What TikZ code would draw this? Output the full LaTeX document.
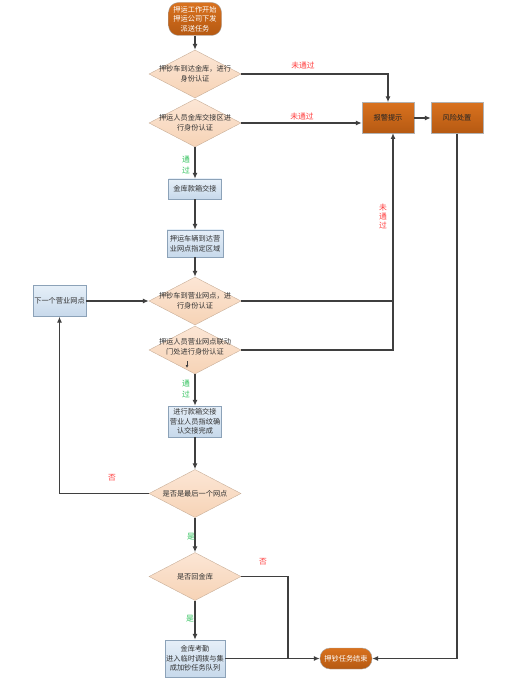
\documentclass[tikz,border=0pt]{standalone}
\usepackage{fontspec}
\setmainfont{Noto Sans CJK SC}
\usetikzlibrary{shapes.geometric,arrows.meta,calc}
\definecolor{linec}{HTML}{3F3F3F}
\definecolor{orgtop}{HTML}{D9721F}
\definecolor{orgbot}{HTML}{B55912}
\definecolor{pchtop}{HTML}{FCE6D5}
\definecolor{pchbot}{HTML}{F6D3B6}
\definecolor{pchdraw}{HTML}{C8AE98}
\definecolor{blutop}{HTML}{E6EFF8}
\definecolor{blubot}{HTML}{C7D9EB}
\definecolor{bludraw}{HTML}{8CA2B8}
\definecolor{redl}{HTML}{FF3B3B}
\definecolor{grnl}{HTML}{2EC05A}
\tikzset{
  txt/.style={font=\fontsize{7.2}{9.6}\selectfont, align=center},
  startend/.style={txt, draw=gray!70, top color=orgtop, bottom color=orgbot, rounded corners=10pt, inner sep=0pt},
  orgbox/.style={txt, draw=gray!60, top color=orgtop, bottom color=orgbot, minimum width=52pt, minimum height=31pt, inner sep=0pt, text=black!85},
  blubox/.style={txt, draw=bludraw, top color=blutop, bottom color=blubot, inner sep=0pt, text=black!80},
  dia/.style={diamond, draw=pchdraw, top color=pchtop, bottom color=pchbot, minimum width=92pt, minimum height=48pt, inner sep=0pt},
  dtxt/.style={txt, text=black!80},
  arr/.style={draw=linec, line width=1.3pt, -{Latex[length=6pt,width=5pt]}},
  ln/.style={draw=linec, line width=1.3pt},
  redlab/.style={font=\fontsize{7.8}{9}\selectfont, text=redl, align=center},
  grnlab/.style={font=\fontsize{7.8}{11}\selectfont, text=grnl, align=center},
}
\begin{document}
\begin{tikzpicture}[x=1pt,y=-1pt]
\useasboundingbox (0,0) rectangle (523,684);
% nodes
\node[startend, minimum width=53pt, minimum height=33pt, text=white] (start) at (195,19) {押运工作开始\\押运公司下发\\派送任务};
\node[dia, label={[dtxt]center:押钞车到达金库，进行\\身份认证}] (d1) at (195,74) {};
\node[dia, label={[dtxt]center:押运人员金库交接区进\\行身份认证}] (d2) at (195,123) {};
\node[orgbox] (alarm) at (388,118) {报警提示};
\node[orgbox] (risk) at (457,118) {风险处置};
\node[blubox, minimum width=53pt, minimum height=20pt] (b1) at (195,189) {金库款箱交接};
\node[blubox, minimum width=56pt, minimum height=27pt] (b2) at (195,243.5) {押运车辆到达营\\业网点指定区域};
\node[dia, label={[dtxt]center:押钞车到营业网点，进\\行身份认证}] (d3) at (195,301) {};
\node[blubox, minimum width=53pt, minimum height=31pt] (next) at (59.5,301) {下一个营业网点};
\node[dia, label={[dtxt,yshift=3pt]center:押运人员营业网点联动\\门处进行身份认证}] (d4) at (195,350) {};
\node[blubox, minimum width=53pt, minimum height=31pt] (b3) at (195,421.5) {进行款箱交接\\营业人员指纹确\\认交接完成};
\node[dia, label={[dtxt]center:是否是最后一个网点}] (d5) at (195,493.5) {};
\node[dia, label={[dtxt]center:是否回金库}] (d6) at (195,576.5) {};
\node[blubox, minimum width=60pt, minimum height=37pt] (b4) at (195,658.5) {金库考勤\\进入临时调拨与集\\成加钞任务队列};
\node[startend, minimum width=52pt, minimum height=21pt, text=white] (end) at (346,658.5) {押钞任务结束};
% helper coordinates
\coordinate (ja) at (393,133);
\coordinate (jb) at (288,658.5);
\coordinate (ta) at (187,361);
\coordinate (tb) at (187,368);
% connectors
\draw[arr] (start) -- (d1);
\draw[arr] (d1.east) -| (alarm.north);
\draw[arr] (d2.east) -- (d2.east -| alarm.west);
\draw[arr] (alarm.east) -- (risk.west);
\draw[arr] (d2.south) -- (b1.north);
\draw[arr] (b1) -- (b2);
\draw[arr] (b2) -- (d3.north);
\draw[arr] (next.east) -- (d3.west);
\draw[ln] (d3.east) -- (d3.east -| ja);
\draw[arr] (d4.east) -| (ja);
\draw[draw=linec, line width=0.8pt, -{Latex[length=3pt,width=3pt]}] (ta) -- (tb);
\draw[arr] (d4.south) -- (b3.north);
\draw[arr] (b3.south) -- (d5.north);
\draw[arr] (d5.west) -| (next.south);
\draw[arr] (d5.south) -- (d6.north);
\draw[ln] (d6.east) -| (jb);
\draw[arr] (d6.south) -- (b4.north);
\draw[arr] (b4.east) -- (end.west);
\draw[arr] (risk.south) |- (end.east);
% labels
\node[redlab] (l1) at (303,66) {未通过};
\node[redlab] (l2) at (302,117) {未通过};
\node[redlab] (l3) at (383,216) {未\\通\\过};
\node[grnlab] (g1) at (186,165) {通\\过};
\node[grnlab] (g2) at (186,389) {通\\过};
\node[redlab] (n1) at (112,478) {否};
\node[grnlab] (y1) at (191,537) {是};
\node[redlab] (n2) at (263,562) {否};
\node[grnlab] (y2) at (190,619) {是};
\end{tikzpicture}
\end{document}
